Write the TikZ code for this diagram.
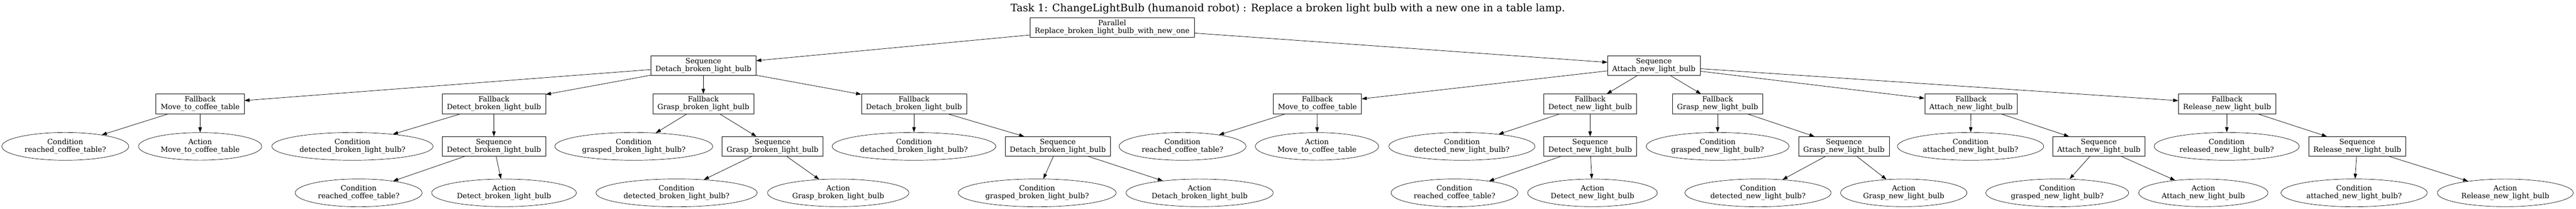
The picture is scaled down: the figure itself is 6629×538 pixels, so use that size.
\documentclass[tikz,border=0pt]{standalone}
\usepackage{fontspec}
\setmainfont{DejaVu Serif}
\usetikzlibrary{shapes.geometric,arrows.meta}

\begin{document}
\begin{tikzpicture}[x=1pt,y=-1pt,
  every node/.style={font=\fontsize{18.67}{20}\selectfont, align=center},
  ctrl/.style={draw, rectangle, inner xsep=12pt, inner ysep=6pt, line width=0.9pt},
  leaf/.style={draw, ellipse, inner xsep=10.5pt, inner ysep=6pt, line width=0.9pt},
  link/.style={line width=1pt, -{Triangle[length=13pt,width=9pt]}}]
\useasboundingbox (0,0) rectangle (6629,538);
\node (title) at (3314,22) {\fontsize{26.7}{30}\selectfont Task 1: ChangeLightBulb (humanoid robot) : Replace a broken light bulb with a new one in a table lamp.};
\node [ctrl] (par) at (2862,70.4) {Parallel\\Replace\_broken\_light\_bulb\_with\_new\_one};
\node [ctrl] (seqdetach) at (1810,169) {Sequence\\Detach\_broken\_light\_bulb};
\node [ctrl] (seqattach) at (4256,169) {Sequence\\Attach\_new\_light\_bulb};
\node [ctrl] (fbmoveb) at (515,267.5) {Fallback\\Move\_to\_coffee\_table};
\node [ctrl] (fbdetectb) at (1271,267.5) {Fallback\\Detect\_broken\_light\_bulb};
\node [ctrl] (fbgraspb) at (1810,267.5) {Fallback\\Grasp\_broken\_light\_bulb};
\node [ctrl] (fbdetachb) at (2352,267.5) {Fallback\\Detach\_broken\_light\_bulb};
\node [ctrl] (fbmoven) at (3390,267.5) {Fallback\\Move\_to\_coffee\_table};
\node [ctrl] (fbdetectn) at (4092,267.5) {Fallback\\Detect\_new\_light\_bulb};
\node [ctrl] (fbgraspn) at (4420,267.5) {Fallback\\Grasp\_new\_light\_bulb};
\node [ctrl] (fbattachn) at (5072,267.5) {Fallback\\Attach\_new\_light\_bulb};
\node [ctrl] (fbreleasen) at (5731,267.5) {Fallback\\Release\_new\_light\_bulb};
\node [leaf] (cmoveb) at (168,377) {Condition\\reached\_coffee\_table?};
\node [leaf] (amoveb) at (515,377) {Action\\Move\_to\_coffee\_table};
\node [leaf] (cdetectb) at (907,377) {Condition\\detected\_broken\_light\_bulb?};
\node [ctrl] (sdetectb) at (1271,377) {Sequence\\Detect\_broken\_light\_bulb};
\node [leaf] (cgraspb) at (1631,377) {Condition\\grasped\_broken\_light\_bulb?};
\node [ctrl] (sgraspb) at (1988,377) {Sequence\\Grasp\_broken\_light\_bulb};
\node [leaf] (cdetachb) at (2352,377) {Condition\\detached\_broken\_light\_bulb?};
\node [ctrl] (sdetachb) at (2722,377) {Sequence\\Detach\_broken\_light\_bulb};
\node [leaf] (cmoven) at (3043,377) {Condition\\reached\_coffee\_table?};
\node [leaf] (amoven) at (3389,377) {Action\\Move\_to\_coffee\_table};
\node [leaf] (cdetectn) at (3762,377) {Condition\\detected\_new\_light\_bulb?};
\node [ctrl] (sdetectn) at (4092,377) {Sequence\\Detect\_new\_light\_bulb};
\node [leaf] (cgraspn) at (4420,377) {Condition\\grasped\_new\_light\_bulb?};
\node [ctrl] (sgraspn) at (4745,377) {Sequence\\Grasp\_new\_light\_bulb};
\node [leaf] (cattachn) at (5071,377) {Condition\\attached\_new\_light\_bulb?};
\node [ctrl] (sattachn) at (5401,377) {Sequence\\Attach\_new\_light\_bulb};
\node [leaf] (creleasen) at (5730,377) {Condition\\released\_new\_light\_bulb?};
\node [ctrl] (sreleasen) at (6066,377) {Sequence\\Release\_new\_light\_bulb};
\node [leaf] (sdb-c) at (923,496.7) {Condition\\reached\_coffee\_table?};
\node [leaf] (sdb-a) at (1297,496.7) {Action\\Detect\_broken\_light\_bulb};
\node [leaf] (sgb-c) at (1741,496.7) {Condition\\detected\_broken\_light\_bulb?};
\node [leaf] (sgb-a) at (2157,496.7) {Action\\Grasp\_broken\_light\_bulb};
\node [leaf] (sxb-c) at (2669,496.7) {Condition\\grasped\_broken\_light\_bulb?};
\node [leaf] (sxb-a) at (3087,496.7) {Action\\Detach\_broken\_light\_bulb};
\node [leaf] (sdn-c) at (3743,496.7) {Condition\\reached\_coffee\_table?};
\node [leaf] (sdn-a) at (4098,496.7) {Action\\Detect\_new\_light\_bulb};
\node [leaf] (sgn-c) at (4524,496.7) {Condition\\detected\_new\_light\_bulb?};
\node [leaf] (sgn-a) at (4899,496.7) {Action\\Grasp\_new\_light\_bulb};
\node [leaf] (san-c) at (5294,496.7) {Condition\\grasped\_new\_light\_bulb?};
\node [leaf] (san-a) at (5670,496.7) {Action\\Attach\_new\_light\_bulb};
\node [leaf] (srn-c) at (6058,496.7) {Condition\\attached\_new\_light\_bulb?};
\node [leaf] (srn-a) at (6447,496.7) {Action\\Release\_new\_light\_bulb};
\draw [link] (par) -- (seqdetach);
\draw [link] (par) -- (seqattach);
\draw [link] (seqdetach) -- (fbmoveb);
\draw [link] (seqdetach) -- (fbdetectb);
\draw [link] (seqdetach) -- (fbgraspb);
\draw [link] (seqdetach) -- (fbdetachb);
\draw [link] (seqattach) -- (fbmoven);
\draw [link] (seqattach) -- (fbdetectn);
\draw [link] (seqattach) -- (fbgraspn);
\draw [link] (seqattach) -- (fbattachn);
\draw [link] (seqattach) -- (fbreleasen);
\draw [link] (fbmoveb) -- (cmoveb);
\draw [link] (fbmoveb) -- (amoveb);
\draw [link] (fbdetectb) -- (cdetectb);
\draw [link] (fbdetectb) -- (sdetectb);
\draw [link] (fbgraspb) -- (cgraspb);
\draw [link] (fbgraspb) -- (sgraspb);
\draw [link] (fbdetachb) -- (cdetachb);
\draw [link] (fbdetachb) -- (sdetachb);
\draw [link] (fbmoven) -- (cmoven);
\draw [link] (fbmoven) -- (amoven);
\draw [link] (fbdetectn) -- (cdetectn);
\draw [link] (fbdetectn) -- (sdetectn);
\draw [link] (fbgraspn) -- (cgraspn);
\draw [link] (fbgraspn) -- (sgraspn);
\draw [link] (fbattachn) -- (cattachn);
\draw [link] (fbattachn) -- (sattachn);
\draw [link] (fbreleasen) -- (creleasen);
\draw [link] (fbreleasen) -- (sreleasen);
\draw [link] (sdetectb) -- (sdb-c);
\draw [link] (sdetectb) -- (sdb-a);
\draw [link] (sgraspb) -- (sgb-c);
\draw [link] (sgraspb) -- (sgb-a);
\draw [link] (sdetachb) -- (sxb-c);
\draw [link] (sdetachb) -- (sxb-a);
\draw [link] (sdetectn) -- (sdn-c);
\draw [link] (sdetectn) -- (sdn-a);
\draw [link] (sgraspn) -- (sgn-c);
\draw [link] (sgraspn) -- (sgn-a);
\draw [link] (sattachn) -- (san-c);
\draw [link] (sattachn) -- (san-a);
\draw [link] (sreleasen) -- (srn-c);
\draw [link] (sreleasen) -- (srn-a);
\end{tikzpicture}
\end{document}
